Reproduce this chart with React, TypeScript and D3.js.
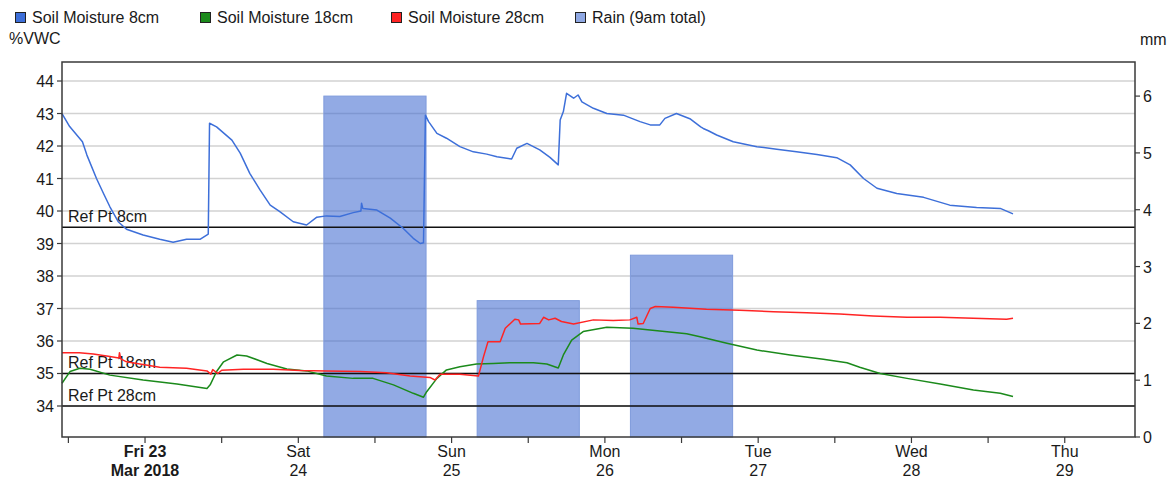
import React from 'react';
import * as d3 from 'd3';

// readings: [hours since Thu 22 Mar 11:00, %VWC]
const moisture8cm: [number, number][] = [
  [0, 43.0], [1.2, 42.6], [3.2, 42.13], [3.9, 41.72], [5.4, 41.0], [6.5, 40.54], [7.5, 40.13],
  [8.8, 39.67], [10.1, 39.44], [12.7, 39.26], [15.3, 39.13], [17.4, 39.04], [19.5, 39.13],
  [21.6, 39.13], [22.9, 39.29], [23.1, 42.7], [24.2, 42.59], [26.6, 42.18], [27.9, 41.78],
  [29.4, 41.16], [31.0, 40.65], [32.6, 40.18], [34.1, 39.98], [36.2, 39.67], [38.3, 39.57],
  [39.9, 39.81], [41.4, 39.85], [43.5, 39.83], [45.6, 39.95], [46.8, 40.0], [46.9, 40.24],
  [47.1, 40.08], [49.3, 40.03], [51.4, 39.78], [53.4, 39.47], [55.0, 39.16], [56.1, 39.0],
  [56.6, 39.02], [56.9, 42.95], [57.4, 42.75], [58.7, 42.39], [60.2, 42.24], [62.3, 41.98],
  [64.4, 41.82], [66.5, 41.75], [68.1, 41.67], [70.4, 41.6], [71.2, 41.93], [72.8, 42.08],
  [74.8, 41.88], [76.4, 41.65], [77.7, 41.42], [78.0, 42.8], [78.5, 43.06], [79.0, 43.62],
  [80.1, 43.47], [80.8, 43.57], [81.4, 43.36], [83.2, 43.16], [85.3, 43.0], [87.9, 42.95],
  [90.5, 42.75], [92.1, 42.65], [93.6, 42.65], [94.4, 42.85], [96.2, 43.0], [98.3, 42.84],
  [100.0, 42.59], [100.4, 42.54], [101.2, 42.47], [102.5, 42.34], [105.1, 42.13],
  [108.8, 41.98], [111.9, 41.9], [115.0, 41.82], [118.2, 41.74], [121.3, 41.64],
  [123.4, 41.42], [125.5, 41.0], [127.6, 40.7], [130.7, 40.54], [134.9, 40.42],
  [139.0, 40.18], [143.2, 40.11], [146.9, 40.08], [148.9, 39.91],
];

const moisture18cm: [number, number][] = [
  [0, 34.7], [1.25, 35.06], [2.8, 35.16], [4.4, 35.13], [7.5, 34.95], [12.7, 34.8],
  [18.0, 34.68], [22.7, 34.54], [23.2, 34.65], [24.2, 35.06], [25.3, 35.36], [27.4, 35.57],
  [28.9, 35.54], [32.1, 35.31], [35.2, 35.14], [38.3, 35.08], [41.4, 34.92], [45.6, 34.85],
  [48.7, 34.85], [51.9, 34.65], [55.0, 34.39], [56.6, 34.27], [57.1, 34.44], [58.7, 34.85],
  [60.2, 35.11], [62.3, 35.21], [64.9, 35.29], [67.5, 35.31], [70.1, 35.33], [73.8, 35.33],
  [75.9, 35.29], [77.7, 35.17], [78.5, 35.57], [79.8, 36.03], [81.6, 36.29], [85.3, 36.42],
  [89.4, 36.39], [93.6, 36.31], [97.8, 36.22], [99.9, 36.13], [104.1, 35.93], [108.8, 35.72],
  [114.0, 35.57], [119.2, 35.44], [122.9, 35.33], [124.9, 35.19], [128.1, 35.0],
  [132.3, 34.85], [137.5, 34.68], [142.7, 34.49], [146.9, 34.39], [148.9, 34.29],
];

const moisture28cm: [number, number][] = [
  [0, 35.64], [2.7, 35.64], [4.9, 35.6], [7.5, 35.52], [8.9, 35.48], [9.0, 35.64],
  [9.2, 35.45], [10.1, 35.36], [12.2, 35.29], [15.3, 35.19], [19.5, 35.16], [22.7, 35.08],
  [23.3, 34.98], [23.6, 35.12], [24.4, 35.0], [25.0, 35.1], [28.4, 35.13], [33.1, 35.13],
  [37.3, 35.09], [41.4, 35.08], [46.7, 35.06], [50.8, 35.02], [54.5, 34.92], [57.6, 34.88],
  [58.4, 34.8], [59.2, 34.98], [62.3, 34.98], [65.2, 34.92], [66.0, 35.52], [66.7, 35.98],
  [68.6, 35.98], [69.4, 36.39], [70.9, 36.67], [71.5, 36.65], [71.8, 36.52], [74.8, 36.54],
  [75.4, 36.73], [76.2, 36.65], [77.2, 36.7], [78.2, 36.6], [80.1, 36.52], [83.2, 36.65],
  [86.3, 36.63], [88.9, 36.65], [90.0, 36.73], [90.2, 36.52], [91.0, 36.54], [92.1, 37.0],
  [92.9, 37.06], [95.7, 37.04], [100.9, 36.98], [106.1, 36.95], [111.4, 36.9],
  [116.6, 36.87], [121.8, 36.83], [127.0, 36.77], [132.3, 36.73], [137.5, 36.73],
  [142.7, 36.7], [147.9, 36.67], [148.9, 36.7],
];

const rainDays = [24, 25, 26]; // March 2018
const rainMm = [6.0, 2.4, 3.2];

const refPoints = [
  { label: 'Ref Pt 8cm', value: 39.5 },
  { label: 'Ref Pt 18cm', value: 35.0 },
  { label: 'Ref Pt 28cm', value: 34.0 },
];

const leftTicks = [34, 35, 36, 37, 38, 39, 40, 41, 42, 43, 44];
const rightTicks = [0, 1, 2, 3, 4, 5, 6];

const series = [
  { name: 'Soil Moisture 8cm', color: '#3d6fd9', data: moisture8cm },
  { name: 'Soil Moisture 18cm', color: '#1b8a1b', data: moisture18cm },
  { name: 'Soil Moisture 28cm', color: '#ff2424', data: moisture28cm },
];

const W = 1173;
const H = 483;
const margin = { top: 62, right: 38, bottom: 46, left: 62 };
const font = '"Liberation Sans", Arial, sans-serif';
const textColor = '#1a1a1a';

export default function App() {
  const start = new Date(2018, 2, 22, 11, 0);
  const end = new Date(2018, 2, 29, 11, 0);
  const x = d3.scaleTime().domain([start, end]).range([margin.left, W - margin.right]);
  const y = d3.scaleLinear().domain([33.046, 44.585]).range([H - margin.bottom, margin.top]);
  const yRain = d3.scaleLinear().domain([0, 6.6]).range([H - margin.bottom, margin.top]);

  const toDate = (h: number) => d3.timeMinute.offset(start, Math.round(h * 60));
  const line = d3.line<[number, number]>()
    .x(d => x(toDate(d[0])))
    .y(d => y(d[1]));

  const x0 = margin.left;
  const x1 = W - margin.right;
  const yBottom = H - margin.bottom;

  const days = d3.timeDay.range(d3.timeDay.ceil(start), end);
  const noons = d3.timeHour.every(12)!.range(start, end).filter(d => d.getHours() === 12);
  const dayFmt = d3.timeFormat('%a');

  const legend = [
    ...series.map(s => ({ name: s.name, color: s.color })),
    { name: 'Rain (9am total)', color: '#8fa8e3' },
  ];
  const legendX = [15, 200, 391, 575];

  return (
    <svg width={W} height={H} style={{ position: 'absolute', left: 0, top: 0, background: '#fff' }}
      fontFamily={font} fontSize={16}>
      {/* legend */}
      {legend.map((l, i) => (
        <g key={l.name} transform={`translate(${legendX[i]},12)`}>
          <rect x={0.5} y={0.5} width={10} height={10} fill={l.color} stroke="#222" strokeWidth={1} />
          <text x={17} y={11} fill={textColor}>{l.name}</text>
        </g>
      ))}
      <text x={9} y={44} fill={textColor}>%VWC</text>
      <text x={1140} y={45} fill={textColor}>mm</text>

      {/* grid */}
      {leftTicks.map(t => (
        <line key={t} x1={x0} x2={x1} y1={y(t)} y2={y(t)} stroke="#d2d2d2" strokeWidth={1.5} />
      ))}

      {/* rain bars */}
      {rainDays.map((d, i) => {
        const noon = new Date(2018, 2, d, 12);
        const bx0 = x(d3.timeHour.offset(noon, -8));
        const bx1 = x(d3.timeHour.offset(noon, 8));
        return (
          <rect key={d} x={bx0} y={yRain(rainMm[i])} width={bx1 - bx0}
            height={yRain(0) - yRain(rainMm[i])} fill="#4069d0" fillOpacity={0.57}
            stroke="#7f9bdc" strokeWidth={1} />
        );
      })}

      {/* reference lines */}
      {refPoints.map(r => (
        <g key={r.label}>
          <line x1={x0} x2={x1} y1={y(r.value)} y2={y(r.value)} stroke="#111" strokeWidth={1.5} />
          <text x={x0 + 6} y={y(r.value) - 5} fill={textColor}>{r.label}</text>
        </g>
      ))}

      {/* moisture lines */}
      {series.map(s => (
        <path key={s.name} d={line(s.data) || ''} fill="none" stroke={s.color} strokeWidth={1.5}
          strokeLinejoin="round" />
      ))}

      {/* plot border */}
      <rect x={x0} y={margin.top} width={x1 - x0} height={yBottom - margin.top}
        fill="none" stroke="#3a3a3a" strokeWidth={1.5} />

      {/* left axis */}
      {leftTicks.map(t => (
        <g key={t}>
          <line x1={x0 - 5} x2={x0} y1={y(t)} y2={y(t)} stroke="#3a3a3a" strokeWidth={1.2} />
          <text x={x0 - 8} y={y(t) + 6} textAnchor="end" fill={textColor}>{t}</text>
        </g>
      ))}

      {/* right axis */}
      {rightTicks.map(t => (
        <g key={t}>
          <line x1={x1} x2={x1 + 5} y1={yRain(t)} y2={yRain(t)} stroke="#3a3a3a" strokeWidth={1.2} />
          <text x={x1 + 8} y={yRain(t) + 6} fill={textColor}>{t}</text>
        </g>
      ))}

      {/* bottom axis */}
      {[...days, ...noons].map(d => (
        <line key={+d} x1={x(d)} x2={x(d)} y1={yBottom} y2={yBottom + 6} stroke="#3a3a3a" strokeWidth={1.2} />
      ))}
      {days.map((d, i) => (
        <text key={+d} x={x(d)} y={457} textAnchor="middle" fill={textColor}
          fontWeight={i === 0 ? 'bold' : 'normal'}>
          <tspan x={x(d)}>{i === 0 ? `${dayFmt(d)} ${d.getDate()}` : dayFmt(d)}</tspan>
          <tspan x={x(d)} dy={19}>{i === 0 ? d3.timeFormat('%b %Y')(d) : d.getDate()}</tspan>
        </text>
      ))}
    </svg>
  );
}
